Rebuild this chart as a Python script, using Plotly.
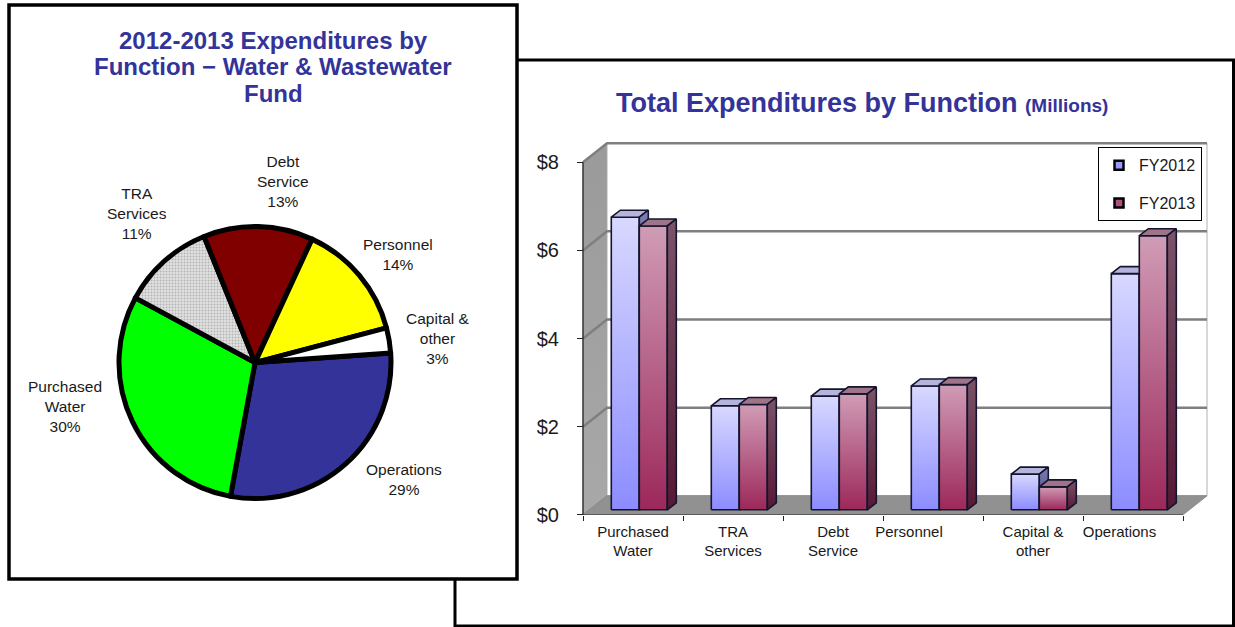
import plotly.graph_objects as go

# ---------------- data ----------------
bar_categories = ["Purchased Water", "TRA Services", "Debt Service", "Personnel", "Capital & other", "Operations"]
bar_tick_text = ["Purchased<br>Water", "TRA<br>Services", "Debt<br>Service", "Personnel", "Capital &<br>other", "Operations"]
fy2012 = [6.64, 2.36, 2.58, 2.81, 0.81, 5.36]
fy2013 = [6.44, 2.39, 2.63, 2.84, 0.52, 6.22]
series_names = ["FY2012", "FY2013"]
y_tick_vals = [0, 2, 4, 6, 8]
y_tick_text = ["$0", "$2", "$4", "$6", "$8"]

pie_labels = ["Operations", "Purchased Water", "TRA Services", "Debt Service", "Personnel", "Capital & other"]
pie_label_text = ["Operations", "Purchased<br>Water", "TRA<br>Services", "Debt<br>Service", "Personnel", "Capital &<br>other"]
pie_pct = [29, 30, 11, 13, 14, 3]

# ---------------- layout constants ----------------
W, H = 1235, 627          # reference pixel frame
H_FIG = 639               # figure height (viewport is taller than the captured frame)
FONT = "Liberation Sans, Arial, sans-serif"
TITLE_C = "#333399"
TXT_C = "#1a1a1a"

def fx(p):
    return p / W

def fy(p):
    return 1 - p / H

# bar-chart frame (reference pixels): origin of front floor, px per category, px per $
PX0, PY0, SX, SY = 583, 514, 100, 44
XR = [-0.03, 6.3]
YR = [0, 8.6]
DEPTH = (0.24, 19 / SY)          # full wall depth offset in data units
BAR_OFF = (0.063, 5 / SY)        # depth of bar front faces
BAR_D = (0.09, 7 / SY)           # depth of bars themselves
BAR_W = 0.28

fig = go.Figure()

def poly(xs, ys, fill=None, grad=None, line_c="rgba(0,0,0,0)", lw=0):
    kw = dict(x=list(xs) + [xs[0]], y=list(ys) + [ys[0]], mode="lines",
              fill="toself", line=dict(color=line_c, width=lw),
              hoverinfo="skip", showlegend=False, xaxis="x", yaxis="y")
    if grad is not None:
        kw["fillgradient"] = dict(type="vertical", colorscale=grad)
    else:
        kw["fillcolor"] = fill
    fig.add_trace(go.Scatter(**kw))

def seg(xs, ys, color, width):
    fig.add_trace(go.Scatter(x=xs, y=ys, mode="lines", line=dict(color=color, width=width),
                             hoverinfo="skip", showlegend=False, xaxis="x", yaxis="y"))

ncat = len(bar_categories)
dx, dy = DEPTH
top = y_tick_vals[-1]

# side wall
poly([0, dx, dx, 0], [0, dy, top + dy, top], grad=[[0, "#a8a8a8"], [1, "#9a9a9a"]],
     line_c="#8a8a8a", lw=1)
# back wall
poly([dx, ncat + dx, ncat + dx, dx], [dy, dy, top + dy, top + dy], fill="white",
     line_c="#b0b0b0", lw=1)
# floor
poly([0, ncat, ncat + dx, dx], [0, 0, dy, dy], fill="#919191", line_c="#8a8a8a", lw=1)
# gridlines on back + side wall
for v in y_tick_vals[1:]:
    seg([0, dx, ncat + dx], [v, v + dy, v + dy], "#7f7f7f", 2.5)

# bars
styles = [
    dict(front=[[0, "#8c8cff"], [1, "#d8d8ff"]], topc="#b4b4dc", side=[[0, "#48488a"], [1, "#7c7cb0"]]),
    dict(front=[[0, "#9c285a"], [1, "#d09cb6"]], topc="#a07488", side=[[0, "#561834"], [1, "#7a5468"]]),
]
OUT = "#14142e"
ox, oy = BAR_OFF
bx, by = BAR_D
for i in range(ncat):
    for s, vals in enumerate([fy2012, fy2013]):
        v = vals[i]
        a = i + 0.5 - BAR_W + s * BAR_W + ox
        b = a + BAR_W
        st = styles[s]
        poly([a, b, b, a], [oy, oy, v + oy, v + oy], grad=st["front"], line_c=OUT, lw=1.6)
        poly([a, b, b + bx, a + bx], [v + oy, v + oy, v + oy + by, v + oy + by],
             fill=st["topc"], line_c=OUT, lw=1.6)
        poly([b, b + bx, b + bx, b], [oy, oy + by, v + oy + by, v + oy],
             grad=st["side"], line_c=OUT, lw=1.6)

# front axis lines
seg([0, 0], [0, top], "#222222", 1.2)
seg([0, ncat], [0, 0], "#222222", 1.2)

# legend entries
legend_cols = ["#9999ff", "#b0507e"]
for s, name in enumerate(series_names):
    fig.add_trace(go.Scatter(x=[None], y=[None], mode="markers", name=name,
                             legendgroup=name,
                             marker=dict(symbol="square", size=9, color=legend_cols[s],
                                         line=dict(color="black", width=2.5)),
                             xaxis="x", yaxis="y"))

# ---------------- pie ----------------
PC_X, PC_Y, PR = 255, 362, 136
pie_colors = ["#333399", "#00ff00", "#dedede", "#800000", "#ffff00", "#ffffff"]
fig.add_trace(go.Pie(
    labels=pie_labels, values=pie_pct, sort=False, direction="clockwise", rotation=86,
    textinfo="none", hoverinfo="skip", showlegend=False,
    marker=dict(colors=pie_colors, line=dict(color="black", width=5),
                pattern=dict(shape=["", "", ".", "", "", ""], fgcolor="#b4b4b4",
                             bgcolor="#e2e2e2", size=3, solidity=0.35)),
    domain=dict(x=[fx(PC_X - PR), fx(PC_X + PR)], y=[fy(PC_Y + PR), fy(PC_Y - PR)]),
))

# pie labels (reference pixel centres)
pie_label_pos = [(404, 478.5), (65, 406), (137, 213.5), (283, 181), (397.5, 254.5), (438, 338)]
annotations = []
for (lx, ly), name, pct in zip(pie_label_pos, pie_label_text, pie_pct):
    annotations.append(dict(x=fx(lx), y=fy(ly), xref="paper", yref="paper", showarrow=False,
                            text=f"{name}<br>{pct}%", align="center",
                            xanchor="center", yanchor="middle",
                            font=dict(family=FONT, size=15.5, color=TXT_C)))

# left title (one annotation per line)
left_title = ["2012-2013 Expenditures by", "Function \u2212 Water & Wastewater", "Fund"]
for line, ly in zip(left_title, [40, 66.7, 93.4]):
    annotations.append(dict(x=fx(273), y=fy(ly), xref="paper", yref="paper", showarrow=False,
                            text=f"<b>{line}</b>", xanchor="center", yanchor="middle",
                            font=dict(family=FONT, size=24, color=TITLE_C)))

# right title
annotations.append(dict(x=fx(614), y=fy(103), xref="paper", yref="paper", showarrow=False,
                        text="<b>Total Expenditures by Function</b> "
                             "<b><span style='font-size:19px'>(Millions)</span></b>",
                        xanchor="left", yanchor="middle",
                        font=dict(family=FONT, size=27, color=TITLE_C)))

# panel frames
shapes = [
    dict(type="rect", xref="paper", yref="paper", x0=fx(455), x1=fx(1233.5), y0=fy(625), y1=fy(60),
         line=dict(color="black", width=3), fillcolor="rgba(0,0,0,0)", layer="below"),
    dict(type="rect", xref="paper", yref="paper", x0=fx(9), x1=fx(517), y0=fy(578), y1=fy(5),
         line=dict(color="black", width=3.5), fillcolor="white", layer="below"),
]

# category label positions (Excel nudges two of them left)
label_nudge = [0, 0, 0, -0.24, 0, -0.135]
x_label_pos = [i + 0.5 + n for i, n in enumerate(label_nudge)]

fig.update_layout(
    width=W, height=H_FIG, margin=dict(l=0, r=0, t=0, b=0),
    paper_bgcolor="white", plot_bgcolor="rgba(0,0,0,0)",
    font=dict(family=FONT, color=TXT_C),
    xaxis=dict(domain=[fx(PX0 + SX * XR[0]), fx(PX0 + SX * XR[1])], range=XR,
               showgrid=False, zeroline=False, showline=False,
               tickmode="array", tickvals=x_label_pos, ticktext=bar_tick_text, ticks="",
               tickfont=dict(family=FONT, size=15, color=TXT_C), ticklabelstandoff=6,
               minor=dict(tickmode="array", tickvals=list(range(ncat + 1)), ticks="outside",
                          ticklen=5, tickcolor="#222222", tickwidth=1, showgrid=False),
               fixedrange=True),
    yaxis=dict(domain=[fy(PY0), fy(PY0 - SY * YR[1])], range=YR,
               anchor="free", position=fx(PX0),
               showgrid=False, zeroline=False, showline=False,
               tickmode="array", tickvals=y_tick_vals, ticktext=y_tick_text,
               ticks="outside", ticklen=6, tickcolor="#222222", ticklabelstandoff=14,
               tickfont=dict(family=FONT, size=20, color=TXT_C), fixedrange=True),
    legend=dict(x=fx(1098), y=fy(147), xanchor="left", yanchor="top",
                bgcolor="white", bordercolor="black", borderwidth=1,
                font=dict(family=FONT, size=16, color=TXT_C),
                itemwidth=30, tracegroupgap=14, traceorder="grouped"),
    annotations=annotations,
    shapes=shapes,
)

fig.write_html(
    "out.html",
    config={"displayModeBar": False, "responsive": False},
    post_script="document.body.style.margin='0';document.body.style.overflow='hidden';",
)
